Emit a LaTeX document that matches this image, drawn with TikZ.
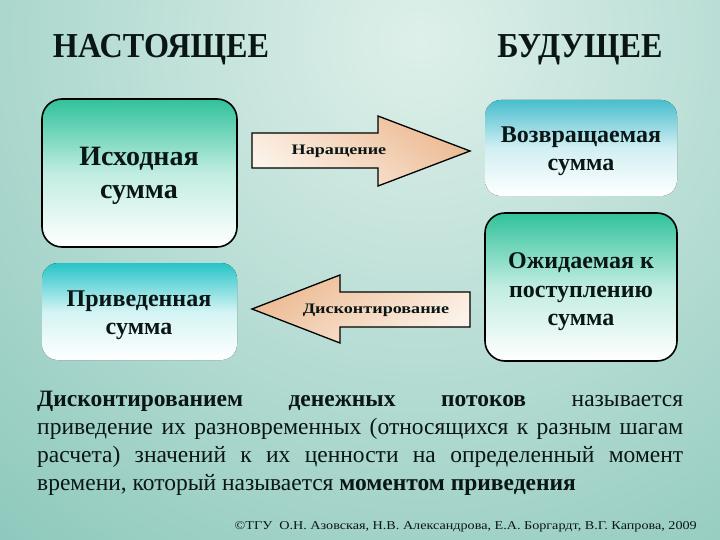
\documentclass[tikz,border=0pt]{standalone}
\usepackage{fontspec}
\setmainfont{Liberation Serif}
\definecolor{bgLight}{RGB}{222,240,234}
\definecolor{bgDark}{RGB}{100,180,165}
\definecolor{greenTop}{RGB}{48,194,154}
\definecolor{cyanTop}{RGB}{38,196,200}
\definecolor{blueTop}{RGB}{72,190,206}
\definecolor{peachTop}{RGB}{236,186,146}
\definecolor{peachBot}{RGB}{252,242,232}
\definecolor{inkDark}{RGB}{10,22,22}
\tikzset{
  title/.style={font=\bfseries\fontsize{35}{40}\selectfont, text=inkDark, xscale=0.92},
  bigboxtext/.style={font=\bfseries\fontsize{28}{33}\selectfont, text=inkDark, align=center},
  boxtext/.style={font=\bfseries\fontsize{24}{28.5}\selectfont, text=inkDark, align=center},
  framedbox/.style={draw=black, line width=1.6pt, rounded corners=20pt},
  softbox/.style={rounded corners=16pt},
  arrowshape/.style={draw=black, line width=1.3pt},
  arrowtext/.style={font=\bfseries\fontsize{14.5}{16}\selectfont, text=inkDark, xscale=1.25}
}
\begin{document}
\begin{tikzpicture}[x=1pt,y=-1pt]
\useasboundingbox (0,0) rectangle (720,540);
% background
\fill[bgDark] (0,0) rectangle (720,540);
\begin{scope}
\clip (0,0) rectangle (720,540);
\shade[inner color=bgLight, outer color=bgDark] (420,40) circle (1000);
\end{scope}
% titles
\node[title] (now) at (161,50) {НАСТОЯЩЕЕ};
\node[title] (future) at (580,50) {БУДУЩЕЕ};
% boxes
\draw[framedbox, top color=greenTop, bottom color=white, middle color=white!70!greenTop] (42,99) rectangle (237,247);
\node[bigboxtext] (src) at (139,176) {Исходная\\сумма};
\fill[softbox, top color=cyanTop, bottom color=white, middle color=white!80!cyanTop] (42,263) rectangle (237,360);
\node[boxtext] (pres) at (139,315) {Приведенная\\сумма};
\fill[softbox, top color=blueTop, bottom color=white, middle color=white!75!blueTop] (485,100) rectangle (677,196);
\node[boxtext] (ret) at (581,151) {Возвращаемая\\сумма};
\draw[framedbox, top color=greenTop, bottom color=white, middle color=white!70!greenTop] (485,213) rectangle (677,361);
\node[boxtext] (exp) at (581,292) {Ожидаемая к\\поступлению\\сумма};
% arrows
\draw[arrowshape, top color=peachTop, bottom color=peachBot, shading angle=-35]
  (252,133) -- (378,133) -- (378,116) -- (470,151) -- (378,186) -- (378,168) -- (252,168) -- cycle;
\node[arrowtext] (grow) at (339,151) {Наращение};
\draw[arrowshape, top color=peachTop, bottom color=peachBot, shading angle=35]
  (470,292) -- (340,292) -- (340,275) -- (252,309) -- (340,343) -- (340,327) -- (470,327) -- cycle;
\node[arrowtext] (disc) at (376,310) {Дисконтирование};
% paragraph
\node[anchor=north west, text width=646pt, align=justify, inner sep=0pt,
      font=\fontsize{23.5}{28}\selectfont, text=inkDark] (para) at (37,391)
{\textbf{Дисконтированием денежных потоков} называется\linebreak
приведение их разновременных (относящихся к разным шагам\linebreak
расчета) значений к их ценности на определенный момент\linebreak
времени, который называется \textbf{моментом приведения}};
% copyright
\node[anchor=east, font=\fontsize{12}{14}\selectfont, text=inkDark, inner sep=0pt, xscale=1.18] (copy) at (697,527)
{©ТГУ \ О.Н. Азовская, Н.В. Александрова, Е.А. Боргардт, В.Г. Капрова, 2009};
\end{tikzpicture}
\end{document}
